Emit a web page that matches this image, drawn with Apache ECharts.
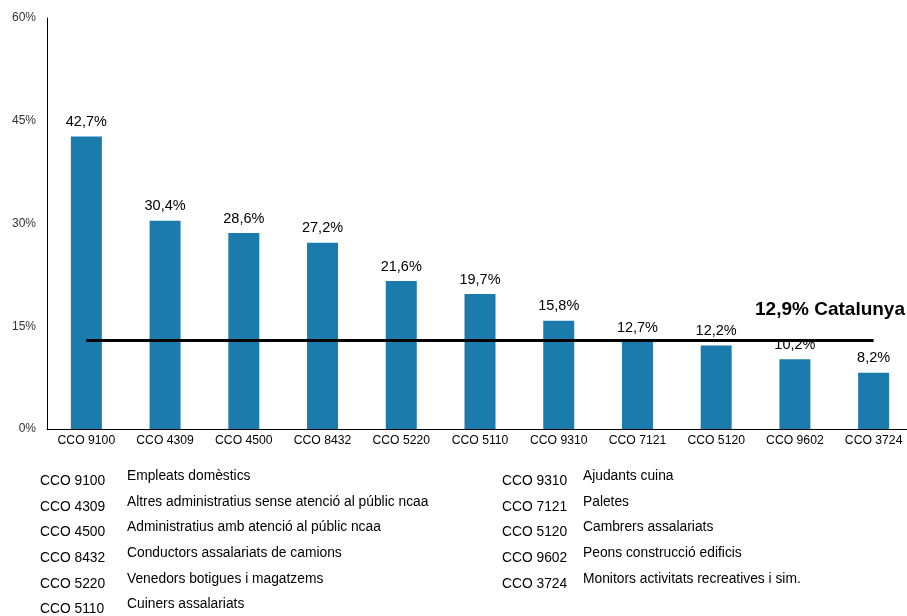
<!DOCTYPE html>
<html lang="ca">
<head>
<meta charset="utf-8">
<title>CCO</title>
<script src="https://cdn.jsdelivr.net/npm/echarts@6/dist/echarts.min.js"></script>
<style>
html,body{margin:0;padding:0;background:#fff;}
#main{width:907px;height:616px;}
</style>
</head>
<body>
<div id="main"></div>
<script>
var codes = ['CCO 9100','CCO 4309','CCO 4500','CCO 8432','CCO 5220','CCO 5110','CCO 9310','CCO 7121','CCO 5120','CCO 9602','CCO 3724'];
var values = [42.7, 30.4, 28.6, 27.2, 21.6, 19.7, 15.8, 12.7, 12.2, 10.2, 8.2];
var names = ['Empleats domèstics','Altres administratius sense atenció al públic ncaa','Administratius amb atenció al públic ncaa',
  'Conductors assalariats de camions','Venedors botigues i magatzems','Cuiners assalariats',
  'Ajudants cuina','Paletes','Cambrers assalariats','Peons construcció edificis','Monitors activitats recreatives i sim.'];
var catalunya = 12.9;
var yTicks = [0, 15, 30, 45, 60];

var font = 'Liberation Sans, Arial, sans-serif';
function pct(v){ return String(v.toFixed(1)).replace('.', ',') + '%'; }

// legend below the chart, two columns
var legend = [];
codes.forEach(function(c, i){
  var col = i < 6 ? 0 : 1;
  var row = col ? i - 6 : i;
  var y = 481 + row * 25.7;
  legend.push({type:'text', x: col ? 502 : 40, y: y,
    style:{text:c, font:'13.8px ' + font, fill:'#000', textVerticalAlign:'middle', verticalAlign:'middle'}});
  legend.push({type:'text', x: col ? 583 : 127, y: y - 5,
    style:{text:names[i], font:'13.8px ' + font, fill:'#000', textVerticalAlign:'middle', verticalAlign:'middle'}});
});
legend.push({type:'text', right: 2, top: 300,
  style:{text: pct(catalunya) + ' Catalunya', font:'bold 19px ' + font, fill:'#000'}});

var chart = echarts.init(document.getElementById('main'));
chart.setOption({
  animation:false,
  grid:{left:47, width:866, top:18, height:411, outerBoundsMode:'none', containLabel:false},
  xAxis:{
    type:'category', data:codes,
    axisLine:{lineStyle:{color:'#000', width:1}},
    axisTick:{show:false},
    axisLabel:{color:'#000', fontSize:12.2, fontFamily:font, margin:6, interval:0}
  },
  yAxis:{
    type:'value', min:0, max:60, interval:15,
    axisLine:{show:true, lineStyle:{color:'#000', width:1}},
    axisTick:{show:false},
    splitLine:{show:false},
    axisLabel:{color:'#333', fontSize:12, fontFamily:font, margin:11,
      formatter:function(v){ return yTicks.indexOf(v) >= 0 ? v + '%' : ''; }}
  },
  series:[{
    type:'bar', data:values, barWidth:31,
    itemStyle:{color:'#1c7bad'},
    label:{show:true, position:'top', distance:7, color:'#000', fontSize:14.5, fontFamily:font,
      formatter:function(p){ return pct(p.value); }},
    markLine:{
      silent:true, symbol:'none',
      lineStyle:{color:'#000', width:3, type:'solid'},
      label:{show:false},
      data:[[{xAxis:0, yAxis:catalunya}, {xAxis:codes.length - 1, yAxis:catalunya}]]
    }
  }],
  graphic:legend
});
</script>
</body>
</html>
